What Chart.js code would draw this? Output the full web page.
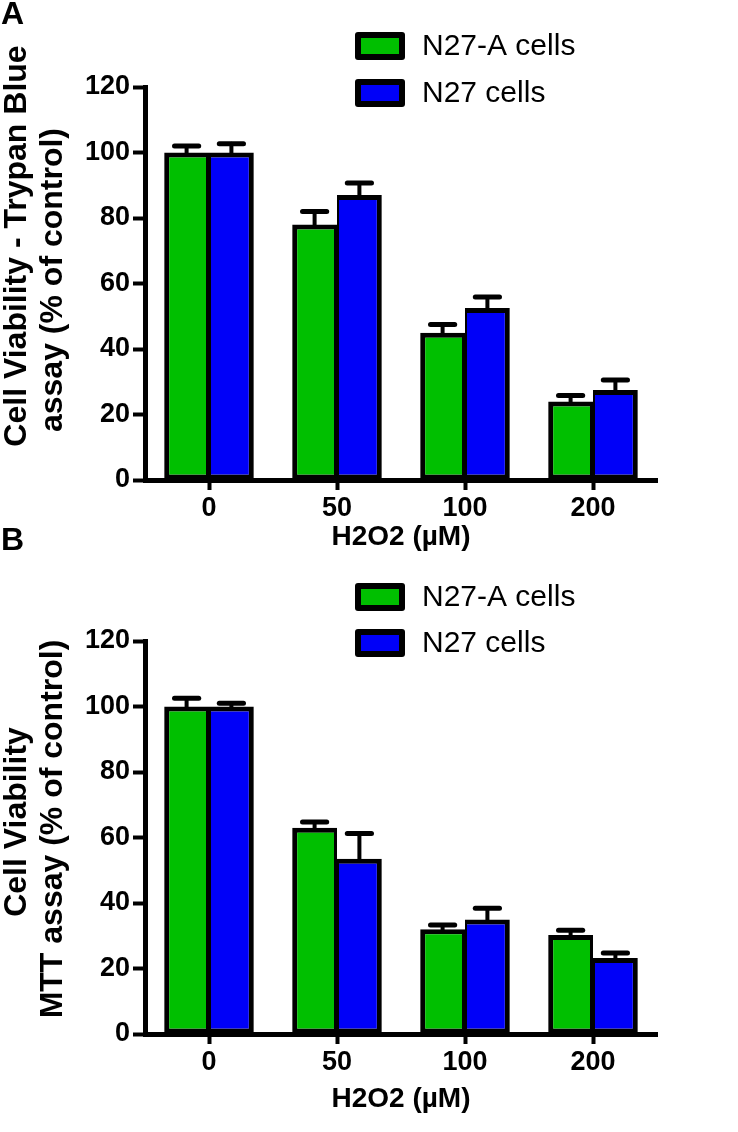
<!DOCTYPE html>
<html>
<head>
<meta charset="utf-8">
<script src="https://cdn.jsdelivr.net/npm/chart.js@4.4.1/dist/chart.umd.min.js"></script>
<style>
  body { margin: 0; background: #fff; }
  #wrap { position: relative; width: 738px; height: 1132px; }
  .panel { position: absolute; left: 0; width: 738px; }
  #panelA { top: 0; height: 566px; }
  #panelB { top: 520px; height: 612px; }
</style>
</head>
<body>
<div id="wrap">
  <div class="panel" id="panelA"><canvas id="chartA"></canvas></div>
  <div class="panel" id="panelB"><canvas id="chartB"></canvas></div>
</div>
<script>
// H2O2 doses (µM)
const doses = ['0', '50', '100', '200'];
const seriesNames = ['N27-A cells', 'N27 cells'];

// panel A - trypan blue
const trypanN27A = [100, 78, 45, 24];
const trypanN27AErr = [2, 4, 2.5, 1.8];
const trypanN27 = [100, 87, 52.5, 27.5];
const trypanN27Err = [2.7, 3.7, 3.4, 3];

// panel B - MTT
const mttN27A = [100, 63, 32, 30.2];
const mttN27AErr = [2.5, 1.7, 1.3, 1.5];
const mttN27 = [100, 53.5, 35, 23.2];
const mttN27Err = [1, 7.7, 3.4, 1.5];

const yMax = 120;
const yStep = 10;
const yLabelEvery = 20;

const GREEN = '#00bf00';
const BLUE = '#0000f8';
const FONT = "'Liberation Sans', Arial, sans-serif";

// error bars (upper only), drawn from the y scale
const errorBars = {
  id: 'errorBars',
  afterDatasetsDraw(chart) {
    const ctx = chart.ctx;
    const y = chart.scales.y;
    chart.data.datasets.forEach((ds, i) => {
      const meta = chart.getDatasetMeta(i);
      meta.data.forEach((bar, j) => {
        const v = ds.data[j];
        const top = y.getPixelForValue(v);
        const cap = y.getPixelForValue(v + ds.errors[j]);
        const half = bar.width * 0.27;
        ctx.save();
        ctx.strokeStyle = '#000';
        ctx.lineCap = 'round';
        ctx.lineWidth = 4;
        ctx.beginPath();
        ctx.moveTo(bar.x, top);
        ctx.lineTo(bar.x, cap);
        ctx.stroke();
        ctx.lineWidth = 5;
        ctx.beginPath();
        ctx.moveTo(bar.x - half, cap);
        ctx.lineTo(bar.x + half, cap);
        ctx.stroke();
        ctx.restore();
      });
    });
  }
};

// short minor ticks on the y axis
const minorTicks = {
  id: 'minorTicks',
  afterDraw(chart) {
    const ctx = chart.ctx;
    const y = chart.scales.y;
    ctx.save();
    ctx.strokeStyle = '#000';
    ctx.lineWidth = 4;
    y.ticks.forEach(t => {
      if (t.value % yLabelEvery === 0) return;
      const py = y.getPixelForValue(t.value);
      ctx.beginPath();
      ctx.moveTo(y.right - 7, py);
      ctx.lineTo(y.right, py);
      ctx.stroke();
    });
    ctx.restore();
  }
};

// panel letter, y title and legend boxes
const panelText = {
  id: 'panelText',
  afterDraw(chart, args, opts) {
    const ctx = chart.ctx;
    ctx.save();
    ctx.fillStyle = '#000';
    ctx.textBaseline = 'middle';
    ctx.font = 'bold 32px ' + FONT;
    ctx.textAlign = 'left';
    ctx.fillText(opts.letter, opts.letterX, opts.letterY);

    ctx.font = 'bold 32px ' + FONT;
    ctx.textAlign = 'center';
    opts.yTitle.forEach((line, k) => {
      ctx.save();
      ctx.translate(opts.yTitleX[k], opts.yTitleY[k]);
      ctx.rotate(-Math.PI / 2);
      ctx.fillText(line, 0, 0);
      ctx.restore();
    });

    ctx.font = '30px ' + FONT;
    ctx.textAlign = 'left';
    chart.data.datasets.forEach((ds, i) => {
      const ry = opts.legendY[i];
      ctx.fillStyle = '#000';
      ctx.beginPath();
      ctx.roundRect(opts.legendX, ry - 14, 50, 28, 3);
      ctx.fill();
      ctx.fillStyle = ds.backgroundColor;
      ctx.fillRect(opts.legendX + 6, ry - 8, 38, 16);
      ctx.fillStyle = '#000';
      ctx.fillText(ds.label, opts.legendX + 67, ry + 1);
    });
    ctx.restore();
  }
};

function makeChart(id, green, greenErr, blue, blueErr, topPad, xAxisHeight, titlePad, text) {
  return new Chart(document.getElementById(id), {
    type: 'bar',
    data: {
      labels: doses,
      datasets: [
        {
          label: seriesNames[0], data: green, errors: greenErr,
          backgroundColor: GREEN, borderColor: '#000',
          borderWidth: { top: 5, bottom: 5, left: 5, right: 3 }, borderSkipped: false
        },
        {
          label: seriesNames[1], data: blue, errors: blueErr,
          backgroundColor: BLUE, borderColor: '#000',
          borderWidth: { top: 5, bottom: 5, left: 2, right: 5 }, borderSkipped: false
        }
      ]
    },
    options: {
      responsive: true,
      maintainAspectRatio: false,
      animation: false,
      categoryPercentage: 0.7,
      barPercentage: 1.0,
      layout: { padding: { top: topPad, right: 81, left: 0, bottom: 0 } },
      plugins: {
        legend: { display: false },
        tooltip: { enabled: false },
        panelText: text
      },
      scales: {
        x: {
          offset: true,
          grid: { offset: false, drawOnChartArea: false, tickLength: 10, tickWidth: 4, tickColor: '#000' },
          border: { color: '#000', width: 5 },
          ticks: { color: '#000', font: { family: FONT, size: 27, weight: 'bold' }, padding: 2 },
          title: {
            display: true, text: 'H2O2 (\u00b5M)', color: '#000',
            font: { family: FONT, size: 28, weight: 'bold' },
            padding: { top: 0, bottom: titlePad }
          },
          afterFit(scale) { scale.height = xAxisHeight; }
        },
        y: {
          min: 0, max: yMax,
          grid: {
            drawOnChartArea: false, tickLength: 12, tickWidth: 4,
            tickColor: c => (c.tick && c.tick.value % yLabelEvery === 0) ? '#000' : 'rgba(0,0,0,0)'
          },
          border: { color: '#000', width: 5 },
          ticks: {
            stepSize: yStep, color: '#000', padding: 3,
            font: { family: FONT, size: 27, weight: 'bold' },
            callback: v => (v % yLabelEvery === 0 ? v : '')
          },
          afterFit(scale) { scale.width = 145; }
        }
      }
    },
    plugins: [errorBars, minorTicks, panelText]
  });
}

makeChart('chartA', trypanN27A, trypanN27AErr, trypanN27, trypanN27Err, 87, 86, 12, {
  letter: 'A', letterX: 1, letterY: 15,
  yTitle: ['Cell Viability - Trypan Blue', 'assay (% of control)'],
  yTitleX: [17, 53], yTitleY: [246, 280],
  legendX: 355, legendY: [46, 93]
});

makeChart('chartB', mttN27A, mttN27AErr, mttN27, mttN27Err, 121, 98, 16, {
  letter: 'B', letterX: 1, letterY: 21,
  yTitle: ['Cell Viability', 'MTT assay (% of control)'],
  yTitleX: [17, 53], yTitleY: [302, 309],
  legendX: 355, legendY: [77, 123]
});
</script>
</body>
</html>
